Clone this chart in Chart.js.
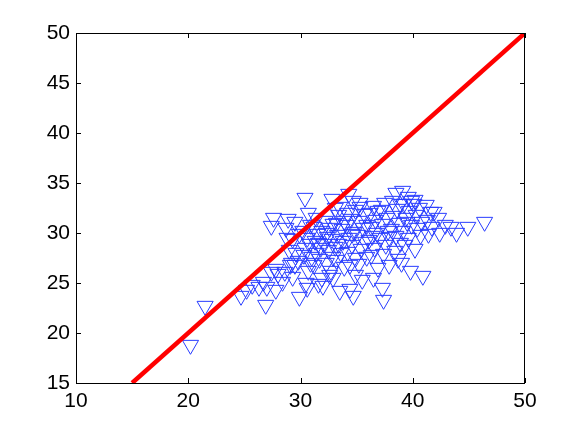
<!DOCTYPE html>
<html lang="en">
<head>
  <meta charset="UTF-8">
  <title>Scatter vs identity line</title>
  <script src="https://cdn.jsdelivr.net/npm/chart.js@4"></script>
  <style>
    body { margin: 0; background: #fff; }
  </style>
</head>
<body>
<canvas id="myChart" width="579" height="431"></canvas>

<script>
// measured values (x = first variable, y = second variable)
const pointsX = [
  20.2, 21.5, 26.9, 24.7, 25.2, 25.7, 26.3, 26.7, 27.4, 27.8, 28.6, 28.4, 29.1, 27.4, 27.6, 28.9,
  28.7, 29.9, 30.4, 32.8, 34.3, 36.5, 30.7, 33.1, 34.2, 32.9, 33.5, 34.7, 34.9, 37.3, 37.4, 36.9,
  29.2, 30.7, 30.5, 31.6, 46.4, 44.9, 43.9, 42.4, 42.9, 41.9, 40.9, 39.0, 40.2, 38.5, 39.1, 39.6,
  27.0, 27.8, 29.3, 29.5, 28.0,
  28.8, 29.0,
  29.3, 29.6, 29.8, 29.5, 29.9,
  30.4, 30.2, 30.6, 30.8, 30.3, 31.0, 30.9, 30.6, 30.9,
  31.2, 31.5, 31.3, 31.8, 31.4, 31.7, 31.2, 31.9, 31.4, 31.9, 31.6,
  32.2, 32.6, 32.3, 32.8, 32.1, 32.5, 32.9, 32.3, 32.7, 32.6, 32.0, 32.4, 32.9,
  33.4, 33.2, 33.7, 33.3, 33.8, 33.1, 33.6, 33.2, 33.9, 33.5, 33.9, 33.4,
  34.7, 34.5, 34.1, 34.8, 34.3, 34.6, 34.2, 34.9, 34.4, 34.4, 34.9, 34.6,
  35.3, 35.7, 35.2, 35.6, 35.1, 35.8, 35.4, 35.9, 35.2, 35.5, 35.9, 35.3,
  36.2, 36.7, 36.3, 36.8, 36.1, 36.6, 36.3, 36.5, 36.9, 36.4,
  37.2, 37.7, 37.3, 37.8, 37.1, 37.6, 37.4, 37.9, 37.5, 37.9,
  38.2, 38.6, 38.3, 38.8, 38.1, 38.5, 38.9, 38.4, 38.7, 38.9,
  39.2, 39.7, 39.4, 39.9, 39.1, 39.6, 39.3, 39.8, 39.5, 39.9,
  40.2, 40.6, 40.3, 40.8, 40.4, 40.7, 40.1,
  41.2, 41.6, 41.3, 41.7, 41.4,
  42.3, 43.4
];
const pointsY = [
  18.8, 22.7, 22.8, 23.7, 24.3, 24.8, 24.6, 25.1, 26.1, 26.4, 26.1, 25.1, 26.8, 30.7, 31.5, 31.4,
  30.5, 23.6, 33.5, 33.4, 33.9, 32.7, 32.0, 32.5, 32.0, 25.5, 24.2, 23.7, 25.8, 24.5, 23.3, 26.5,
  27.0, 26.2, 25.0, 24.9, 31.1, 30.6, 30.0, 30.0, 30.8, 32.1, 25.7, 27.0, 28.4, 34.0, 34.2, 33.6,
  24.6, 24.3, 25.6, 26.8, 25.9,
  29.5, 28.3,
  29.4, 28.0, 27.2, 31.1, 29.9,
  28.5, 30.2, 29.5, 28.9, 27.8, 27.6, 27.0, 24.5, 30.8,
  30.6, 29.9, 29.2, 28.5, 28.0, 27.4, 26.8, 25.5, 31.5, 30.2, 29.0,
  31.2, 30.5, 30.0, 29.4, 28.9, 28.3, 27.6, 27.0, 26.2, 25.8, 24.7, 29.6, 30.9,
  31.8, 31.0, 30.4, 29.8, 29.2, 28.6, 28.0, 27.3, 26.6, 32.6, 31.2, 28.9,
  33.2, 31.4, 30.8, 30.1, 29.5, 28.8, 28.1, 27.5, 26.8, 24.4, 32.3, 29.9,
  32.6, 31.9, 31.2, 30.5, 29.8, 29.1, 28.4, 27.6, 26.9, 25.3, 30.8, 33.0,
  32.0, 31.3, 30.6, 30.0, 29.3, 28.5, 27.8, 25.5, 32.2, 29.7,
  32.3, 31.5, 30.9, 30.2, 29.5, 28.8, 27.9, 26.8, 33.0, 29.6,
  33.2, 32.4, 31.7, 31.0, 30.4, 29.7, 29.0, 28.2, 27.4, 32.9,
  32.9, 32.2, 31.5, 30.8, 30.2, 29.5, 28.8, 26.2, 31.1, 33.2,
  33.3, 32.5, 31.8, 31.1, 30.5, 29.8, 32.9,
  32.8, 32.1, 31.3, 30.6, 29.9,
  31.5, 30.6
];

// identity line y = x
const lineX = [15, 50];
const lineY = [15, 50];

const xTicks = [10, 20, 30, 40, 50];
const yTicks = [15, 20, 25, 30, 35, 40, 45, 50];

const scatterData = pointsX.map((v, i) => ({ x: v, y: pointsY[i] }));
const lineData = lineX.map((v, i) => ({ x: v, y: lineY[i] }));

// box around plot area + inward tick marks (matlab look)
const boxPlugin = {
  id: 'box',
  afterDraw(chart) {
    const { ctx, chartArea: a, scales } = chart;
    const tl = 5;
    ctx.save();
    ctx.strokeStyle = '#000';
    ctx.lineWidth = 1;
    ctx.strokeRect(a.left + 0.5, a.top + 0.5, a.right - a.left - 1, a.bottom - a.top);
    ctx.beginPath();
    xTicks.forEach(v => {
      const px = Math.round(scales.x.getPixelForValue(v)) + 0.5;
      ctx.moveTo(px, a.bottom); ctx.lineTo(px, a.bottom - tl);
      ctx.moveTo(px, a.top); ctx.lineTo(px, a.top + tl);
    });
    yTicks.forEach(v => {
      const py = Math.round(scales.y.getPixelForValue(v)) + 0.5;
      ctx.moveTo(a.left, py); ctx.lineTo(a.left + tl, py);
      ctx.moveTo(a.right, py); ctx.lineTo(a.right - tl, py);
    });
    ctx.stroke();
    ctx.restore();
  }
};

const tickFont = { family: "'Liberation Sans', Arial, sans-serif", size: 21 };

new Chart(document.getElementById('myChart'), {
  type: 'scatter',
  data: {
    datasets: [
      {
        type: 'line',
        data: lineData,
        showLine: true,
        borderColor: 'rgb(255, 0, 0)',
        borderWidth: 4.5,
        pointRadius: 0,
        fill: false
      },
      {
        data: scatterData,
        pointStyle: 'triangle',
        rotation: 180,
        pointRadius: 9.3,
        pointHoverRadius: 9.3,
        borderWidth: 1,
        borderColor: 'rgb(40, 60, 255)',
        backgroundColor: 'rgba(0,0,0,0)'
      }
    ]
  },
  options: {
    responsive: false,
    devicePixelRatio: 1,
    animation: false,
    layout: { padding: { top: 33, right: 54, left: 0, bottom: 0 } },
    plugins: { legend: { display: false }, tooltip: { enabled: false } },
    scales: {
      x: {
        type: 'linear',
        min: 10,
        max: 50,
        afterFit: s => { s.height = 48; },
        afterBuildTicks: s => { s.ticks = xTicks.map(v => ({ value: v })); },
        grid: { display: false, drawTicks: false },
        border: { display: false },
        ticks: { color: '#000', font: tickFont, padding: 6, maxRotation: 0 }
      },
      y: {
        type: 'linear',
        min: 15,
        max: 50,
        afterFit: s => { s.width = 76; },
        afterBuildTicks: s => { s.ticks = yTicks.map(v => ({ value: v })); },
        grid: { display: false, drawTicks: false },
        border: { display: false },
        ticks: { color: '#000', font: tickFont, padding: 6 }
      }
    }
  },
  plugins: [boxPlugin]
});
</script>
</body>
</html>
